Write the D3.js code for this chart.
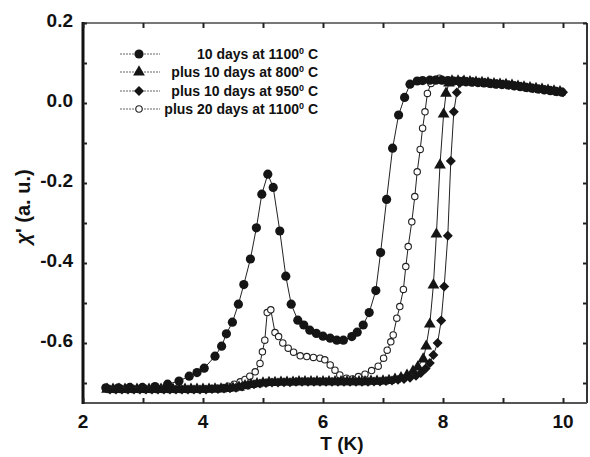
<!DOCTYPE html>
<html>
<head>
<meta charset="utf-8">
<script src="https://cdn.jsdelivr.net/npm/d3@7"></script>
<style>
  html, body { margin: 0; padding: 0; background: #fff; }
  svg { display: block; }
  text { font-family: "Liberation Sans", Arial, Helvetica, sans-serif; font-weight: bold; fill: #111; }
</style>
</head>
<body>
<svg id="chart" width="590" height="457"></svg>
<script>
// ---------------- data ----------------
const legendLabels = [
  ["10 days at 1100", "0", " C"],
  ["plus 10 days at 800", "0", " C"],
  ["plus 10 days at 950", "0", " C"],
  ["plus 20 days at 1100", "0", " C"]
];
const xTicks = [2, 4, 6, 8, 10];
const yTicks = [0.2, 0.0, -0.2, -0.4, -0.6];
const yTickLabels = ["0.2", "0.0", "-0.2", "-0.4", "-0.6"];

// 10 days at 1100 C  (filled circles)  [T (K), chi']
const days10at1100 = [
  [2.38,-0.712],[2.59,-0.712],[2.78,-0.711],[2.99,-0.711],[3.20,-0.709],[3.41,-0.703],
  [3.60,-0.695],[3.77,-0.683],[3.90,-0.674],[4.02,-0.663],[4.20,-0.633],[4.31,-0.608],
  [4.39,-0.577],[4.49,-0.548],[4.59,-0.503],[4.68,-0.454],[4.79,-0.390],[4.89,-0.312],
  [4.98,-0.228],[5.08,-0.178],[5.17,-0.211],[5.28,-0.320],[5.38,-0.433],[5.47,-0.503],
  [5.58,-0.543],[5.68,-0.555],[5.78,-0.568],[5.89,-0.576],[6.00,-0.583],[6.12,-0.588],
  [6.23,-0.593],[6.34,-0.593],[6.48,-0.584],[6.57,-0.573],[6.67,-0.555],[6.77,-0.524],
  [6.88,-0.469],[6.96,-0.374],[7.06,-0.241],[7.16,-0.113],[7.26,-0.030],[7.36,0.014],
  [7.45,0.047],[7.57,0.055],[7.66,0.056],[7.78,0.057],[7.88,0.057],[7.98,0.057],
  [8.08,0.056],[8.18,0.055],[8.28,0.054],[8.38,0.053],[8.48,0.052],[8.58,0.051],
  [8.68,0.050],[8.78,0.049],[8.88,0.047],[8.98,0.046],[9.08,0.045],[9.18,0.043],
  [9.28,0.041],[9.38,0.039],[9.48,0.037],[9.58,0.035],[9.68,0.033],[9.78,0.031],
  [9.88,0.029],[9.98,0.027]
];

// plus 10 days at 800 C  (triangles)
const plus10at800 = [
  [2.40,-0.716],[2.50,-0.716],[2.60,-0.716],[2.70,-0.716],[2.80,-0.716],[2.90,-0.716],
  [3.00,-0.716],[3.10,-0.716],[3.20,-0.716],[3.30,-0.716],[3.40,-0.716],[3.50,-0.716],
  [3.60,-0.716],[3.70,-0.716],[3.80,-0.716],[3.90,-0.716],[4.00,-0.716],[4.10,-0.716],
  [4.20,-0.715],[4.30,-0.715],[4.40,-0.714],[4.50,-0.713],[4.60,-0.711],[4.70,-0.707],
  [4.80,-0.704],[4.90,-0.702],[5.00,-0.700],[5.10,-0.699],[5.20,-0.699],[5.30,-0.698],
  [5.40,-0.698],[5.50,-0.698],[5.60,-0.697],[5.70,-0.697],[5.80,-0.697],[5.90,-0.697],
  [6.00,-0.697],[6.10,-0.697],[6.20,-0.697],[6.30,-0.697],[6.40,-0.697],[6.50,-0.697],
  [6.60,-0.697],[6.70,-0.697],[6.80,-0.696],[6.90,-0.696],[7.00,-0.695],[7.10,-0.694],
  [7.20,-0.691],[7.30,-0.687],[7.40,-0.681],[7.50,-0.671],[7.58,-0.660],[7.67,-0.640],
  [7.72,-0.608],[7.78,-0.553],[7.84,-0.455],[7.89,-0.328],[7.95,-0.155],[8.01,-0.028],
  [8.05,0.024],[8.10,0.050],[8.15,0.055],[8.25,0.055],[8.35,0.054],[8.45,0.053],
  [8.55,0.052],[8.65,0.051],[8.75,0.050],[8.85,0.048],[8.95,0.047],[9.05,0.046],
  [9.15,0.044],[9.25,0.042],[9.35,0.040],[9.45,0.038],[9.55,0.036],[9.65,0.034],
  [9.75,0.032],[9.85,0.030],[9.95,0.028]
];

// plus 10 days at 950 C  (diamonds)
const plus10at950 = [
  [2.45,-0.716],[2.55,-0.716],[2.65,-0.716],[2.75,-0.716],[2.85,-0.716],[2.95,-0.716],
  [3.05,-0.716],[3.15,-0.716],[3.25,-0.716],[3.35,-0.716],[3.45,-0.716],[3.55,-0.716],
  [3.65,-0.716],[3.75,-0.716],[3.85,-0.716],[3.95,-0.716],[4.05,-0.716],[4.15,-0.715],
  [4.25,-0.715],[4.35,-0.714],[4.45,-0.713],[4.55,-0.712],[4.65,-0.709],[4.75,-0.705],
  [4.85,-0.703],[4.95,-0.701],[5.05,-0.700],[5.15,-0.699],[5.25,-0.699],[5.35,-0.698],
  [5.45,-0.698],[5.55,-0.697],[5.65,-0.697],[5.75,-0.697],[5.85,-0.697],[5.95,-0.697],
  [6.05,-0.697],[6.15,-0.697],[6.25,-0.697],[6.35,-0.697],[6.45,-0.697],[6.55,-0.697],
  [6.65,-0.697],[6.75,-0.697],[6.85,-0.696],[6.95,-0.696],[7.05,-0.695],[7.15,-0.694],
  [7.25,-0.692],[7.35,-0.690],[7.45,-0.687],[7.55,-0.682],[7.63,-0.675],[7.71,-0.664],
  [7.78,-0.650],[7.84,-0.630],[7.91,-0.600],[7.97,-0.544],[8.02,-0.459],[8.08,-0.332],
  [8.13,-0.145],[8.18,-0.022],[8.23,0.026],[8.28,0.050],[8.33,0.055],[8.40,0.054],
  [8.50,0.053],[8.60,0.052],[8.70,0.051],[8.80,0.049],[8.90,0.048],[9.00,0.047],
  [9.10,0.045],[9.20,0.043],[9.30,0.041],[9.40,0.039],[9.50,0.037],[9.60,0.035],
  [9.70,0.033],[9.80,0.031],[9.90,0.029],[10.00,0.027]
];

// plus 20 days at 1100 C  (open circles)
const plus20at1100 = [
  [2.42,-0.716],[2.52,-0.716],[2.62,-0.716],[2.72,-0.716],[2.82,-0.716],[2.92,-0.716],
  [3.02,-0.716],[3.12,-0.716],[3.22,-0.716],[3.32,-0.716],[3.42,-0.716],[3.52,-0.716],
  [3.62,-0.716],[3.72,-0.716],[3.82,-0.716],[3.92,-0.716],[4.02,-0.715],[4.12,-0.714],
  [4.22,-0.713],[4.32,-0.711],[4.42,-0.708],[4.52,-0.703],[4.62,-0.697],[4.70,-0.691],
  [4.78,-0.683],[4.87,-0.672],[4.95,-0.651],[4.99,-0.622],[5.03,-0.593],[5.07,-0.524],
  [5.13,-0.517],[5.20,-0.574],[5.26,-0.584],[5.33,-0.600],[5.42,-0.613],[5.51,-0.623],
  [5.62,-0.632],[5.73,-0.634],[5.84,-0.636],[5.95,-0.638],[6.03,-0.642],[6.12,-0.655],
  [6.20,-0.668],[6.28,-0.680],[6.39,-0.688],[6.49,-0.690],[6.59,-0.684],[6.70,-0.678],
  [6.81,-0.669],[6.92,-0.658],[7.01,-0.638],[7.07,-0.618],[7.13,-0.597],[7.17,-0.580],
  [7.23,-0.538],[7.28,-0.509],[7.34,-0.466],[7.38,-0.409],[7.42,-0.359],[7.48,-0.297],
  [7.53,-0.234],[7.57,-0.172],[7.62,-0.116],[7.66,-0.063],[7.70,-0.022],[7.74,0.024],
  [7.80,0.049],[7.87,0.059],[7.94,0.062],[8.01,0.056],[8.08,0.055],[8.18,0.055],
  [8.28,0.054],[8.38,0.053],[8.48,0.052],[8.58,0.051],[8.68,0.050],[8.78,0.049],
  [8.88,0.047],[8.98,0.046],[9.08,0.045],[9.18,0.043],[9.28,0.041],[9.38,0.039],
  [9.48,0.037],[9.58,0.035],[9.68,0.033],[9.78,0.031],[9.88,0.029],[9.98,0.027]
];

// ---------------- drawing ----------------
const svg = d3.select("#chart");
const x = d3.scaleLinear().domain([2, 10.4]).range([83, 587]);
const y = d3.scaleLinear().domain([-0.75, 0.2]).range([403, 23]);

const series = [
  { data: plus20at1100, sym: "open" },
  { data: plus10at800,  sym: "tri" },
  { data: plus10at950,  sym: "dia" },
  { data: days10at1100, sym: "dot" }
];

const line = d3.line().x(d => x(d[0])).y(d => y(d[1]));

function drawSymbol(g, sym, cx, cy) {
  if (sym === "dot") {
    g.append("circle").attr("cx", cx).attr("cy", cy).attr("r", 4.6).attr("fill", "#151515");
  } else if (sym === "open") {
    g.append("circle").attr("cx", cx).attr("cy", cy).attr("r", 3.2)
      .attr("fill", "#fff").attr("stroke", "#222").attr("stroke-width", 1.1);
  } else if (sym === "tri") {
    g.append("path").attr("transform", `translate(${cx},${cy})`)
      .attr("d", d3.symbol(d3.symbolTriangle, 60)()).attr("fill", "#151515");
  } else if (sym === "dia") {
    g.append("path").attr("transform", `translate(${cx},${cy}) rotate(45)`)
      .attr("d", d3.symbol(d3.symbolSquare, 50)()).attr("fill", "#151515");
  }
}

const plot = svg.append("g");
series.forEach(s => {
  plot.append("path").datum(s.data).attr("d", line)
    .attr("fill", "none").attr("stroke", "#222").attr("stroke-width", 1);
  const g = plot.append("g");
  s.data.forEach(d => drawSymbol(g, s.sym, x(d[0]), y(d[1])));
});

// frame
const [x0, x1] = x.range();
const [yb, yt] = y.range();
svg.append("line").attr("x1", x0).attr("x2", x1).attr("y1", yt).attr("y2", yt)
  .attr("stroke", "#777").attr("stroke-width", 2.2);
svg.append("line").attr("x1", x1).attr("x2", x1).attr("y1", yt).attr("y2", yb)
  .attr("stroke", "#333").attr("stroke-width", 2);
svg.append("line").attr("x1", x0).attr("x2", x1).attr("y1", yb).attr("y2", yb)
  .attr("stroke", "#555").attr("stroke-width", 2.2);
svg.append("line").attr("x1", x0).attr("x2", x0).attr("y1", yt - 1).attr("y2", yb + 1)
  .attr("stroke", "#111").attr("stroke-width", 3);

// axes (ticks inward)
const xMinor = d3.range(2, 10.01, 1);
const yMinor = d3.range(-0.7, 0.201, 0.1);
const xb = svg.append("g").attr("transform", `translate(0,${yb})`)
  .call(d3.axisTop(x).tickValues(xMinor).tickSize(5).tickFormat(""));
const xt = svg.append("g").attr("transform", `translate(0,${yt})`)
  .call(d3.axisBottom(x).tickValues(xMinor).tickSize(5).tickFormat(""));
const yl = svg.append("g").attr("transform", `translate(${x0},0)`)
  .call(d3.axisRight(y).tickValues(yMinor).tickSize(4).tickFormat(""));
const yr = svg.append("g").attr("transform", `translate(${x1},0)`)
  .call(d3.axisLeft(y).tickValues(yMinor).tickSize(4).tickFormat(""));
[xb, xt, yl, yr].forEach(g => {
  g.select(".domain").remove();
  g.selectAll(".tick line").attr("stroke", "#222").attr("stroke-width", 2);
});

// tick labels
svg.append("g").selectAll("text").data(xTicks).join("text")
  .attr("x", d => x(d)).attr("y", 428).attr("text-anchor", "middle")
  .attr("font-size", 19).text(d => d);
svg.append("g").selectAll("text").data(yTicks).join("text")
  .attr("x", 73).attr("y", d => y(d) + 4).attr("text-anchor", "end")
  .attr("font-size", 19).text((d, i) => yTickLabels[i]);

// axis titles
svg.append("text").attr("x", 342).attr("y", 450).attr("text-anchor", "middle")
  .attr("font-size", 19).text("T (K)");
const yt2 = svg.append("text").attr("transform", "translate(30,207) rotate(-90)")
  .attr("text-anchor", "middle").attr("font-size", 20);
yt2.append("tspan").attr("font-style", "italic").text("χ");
yt2.append("tspan").text("' (a. u.)");

// legend
const legSyms = ["dot", "tri", "dia", "open"];
const legY = [54, 72, 91, 109];
const leg = svg.append("g");
legendLabels.forEach((lab, i) => {
  const ly = legY[i];
  leg.append("line").attr("x1", 120).attr("x2", 160).attr("y1", ly).attr("y2", ly)
    .attr("stroke", "#999").attr("stroke-width", 1.5).attr("stroke-dasharray", "2,1");
  drawSymbol(leg, legSyms[i], 139, ly);
  const t = leg.append("text").attr("x", 318).attr("y", ly + 5)
    .attr("text-anchor", "end").attr("font-size", 14);
  t.append("tspan").text(lab[0]);
  t.append("tspan").attr("font-size", 9).attr("dy", -5).text(lab[1]);
  t.append("tspan").attr("dy", 5).text(lab[2]);
});
</script>
</body>
</html>
